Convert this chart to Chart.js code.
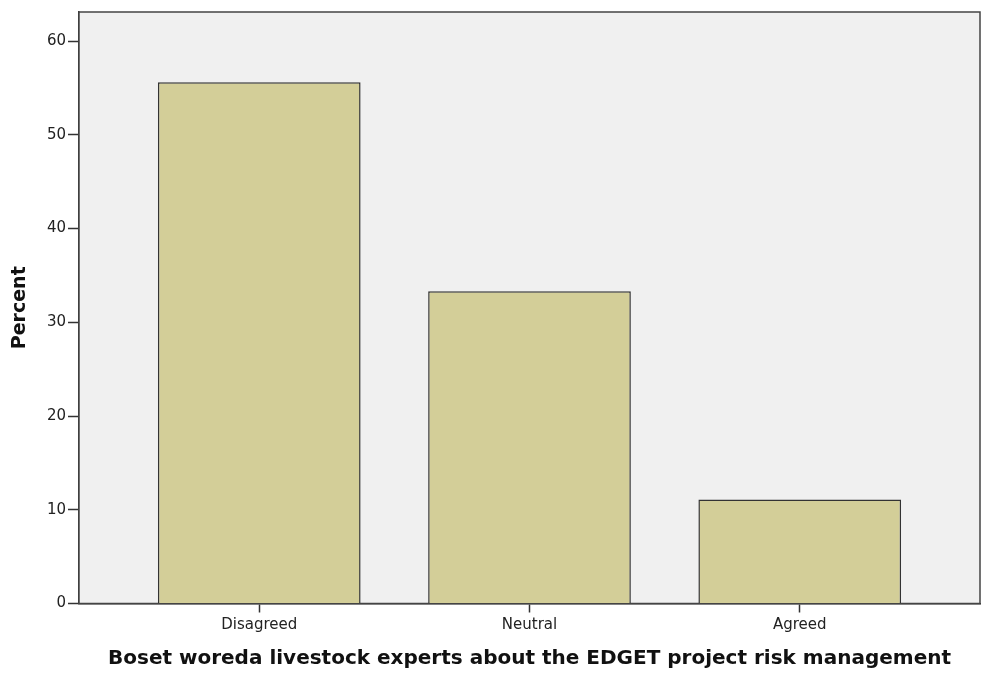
<!DOCTYPE html>
<html>
<head>
<meta charset="utf-8">
<script src="https://cdn.jsdelivr.net/npm/chart.js@4.4.1/dist/chart.umd.min.js"></script>
<style>
  html, body { margin: 0; padding: 0; background: #fff; }
  #wrap { width: 985px; height: 675px; }
</style>
</head>
<body>
<div id="wrap"><canvas id="bar-chart"></canvas></div>
<script>
// Data
const categories = ['Disagreed', 'Neutral', 'Agreed'];
const percents = [55.6, 33.3, 11.1];
const yTicks = [0, 10, 20, 30, 40, 50, 60];

// Grey plot area with a dark frame, like the SPSS output
const plotFrame = {
    id: 'plotFrame',
    beforeDatasetsDraw(chart) {
        const a = chart.chartArea;
        const c = chart.ctx;
        c.save();
        c.fillStyle = '#f0f0f0';
        c.fillRect(a.left, a.top, a.right - a.left, a.bottom - a.top);
        c.strokeStyle = '#444';
        c.lineWidth = 1.5;
        c.strokeRect(a.left, a.top, a.right - a.left, a.bottom - a.top);
        c.restore();
    }
};

const ctx = document.getElementById('bar-chart').getContext('2d');
const chart = new Chart(ctx, {
    type: 'bar',
    data: {
        datasets: [{
            data: categories.map((c, i) => ({ x: i, y: percents[i] })),
            backgroundColor: '#d3ce98',
            borderColor: '#333',
            borderWidth: 1.5,
            barPercentage: 0.75,
            categoryPercentage: 1.0,
        }]
    },
    options: {
        responsive: true,
        maintainAspectRatio: false,
        animation: false,
        layout: { padding: { top: 12, right: 5, left: 0, bottom: 0 } },
        plugins: {
            legend: { display: false },
            tooltip: { enabled: false },
        },
        scales: {
            x: {
                type: 'linear',
                offset: false,
                min: -0.667,
                max: 2.667,
                afterBuildTicks: (s) => { s.ticks = categories.map((c, i) => ({ value: i })); },
                afterFit: (s) => { s.height = 71.5; },
                ticks: {
                    callback: (v) => categories[v],
                    color: '#222',
                    font: { family: 'DejaVu Sans', size: 15 },
                    padding: 4,
                    autoSkip: false,
                    maxRotation: 0,
                },
                grid: { offset: false, drawOnChartArea: false, tickLength: 9, color: '#333', tickWidth: 1.5 },
                border: { color: '#333', width: 1.5 },
                title: {
                    display: true,
                    text: 'Boset woreda livestock experts about the EDGET project risk management',
                    color: '#111',
                    font: { family: 'DejaVu Sans', size: 20, weight: 'bold' },
                    padding: { top: 10 },
                },
            },
            y: {
                min: 0,
                max: 63.1,
                afterBuildTicks: (s) => { s.ticks = yTicks.map(v => ({ value: v })); },
                afterFit: (s) => { s.width = 79; },
                ticks: {
                    color: '#222',
                    font: { family: 'DejaVu Sans', size: 15 },
                    padding: 2,
                },
                grid: { drawOnChartArea: false, tickLength: 11, color: '#333', tickWidth: 1.5 },
                border: { color: '#333', width: 1.5 },
                title: {
                    display: true,
                    text: 'Percent',
                    color: '#111',
                    font: { family: 'DejaVu Sans', size: 19, weight: 'bold' },
                    padding: { top: 9, bottom: 4 },
                },
            },
        },
    },
    plugins: [plotFrame],
});
</script>
</body>
</html>
